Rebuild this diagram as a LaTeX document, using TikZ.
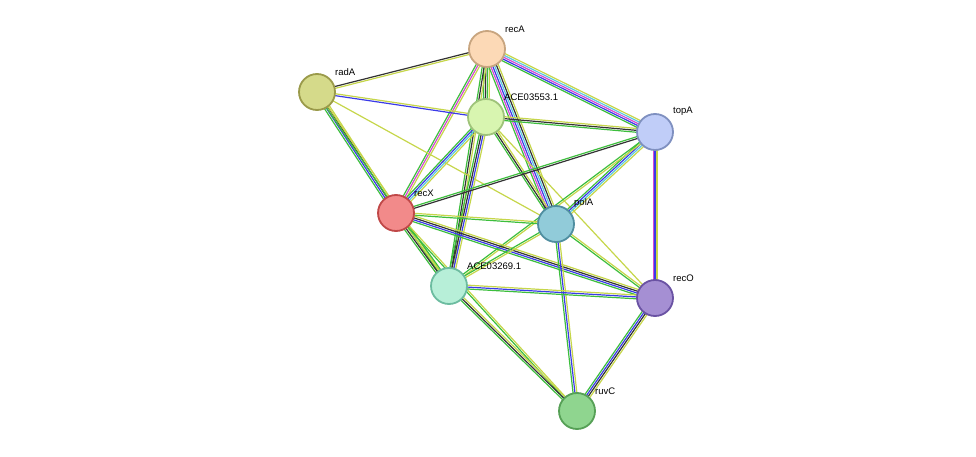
\documentclass[tikz,border=0pt]{standalone}
\usepackage{fontspec}
\setmainfont{Liberation Sans}
\usetikzlibrary{calc}
\definecolor{eg}{HTML}{3DBE3D}
\definecolor{eb}{HTML}{3A3AE8}
\definecolor{ek}{HTML}{333333}
\definecolor{ey}{HTML}{C6D64A}
\definecolor{em}{HTML}{D24AD2}
\definecolor{ec}{HTML}{5AC8E0}
\newcommand{\sedge}[3]{%
 \foreach \c [count=\i] in {#3} {\xdef\nn{\i}}%
 \foreach \c [count=\i] in {#3} {%
  \pgfmathsetmacro{\o}{(\i-(\nn+1)/2)*1.9}%
  \draw[draw=\c,line width=1.2pt] ($(#1)!\o pt!90:(#2)$) -- ($(#2)!\o pt!-90:(#1)$);}}
\tikzset{prot/.style={circle,minimum size=36pt,inner sep=0pt,line width=1.8pt},
 lab/.style={font=\fontsize{9.5}{11}\selectfont,inner sep=1pt,anchor=south west}}
\begin{document}
\begin{tikzpicture}[x=1pt,y=-1pt]
\useasboundingbox (0,0) rectangle (976,457);
\coordinate (recA) at (487,49);
\coordinate (radA) at (317,92);
\coordinate (A5) at (486,117);
\coordinate (topA) at (655,132);
\coordinate (recX) at (396,213);
\coordinate (polA) at (556,224);
\coordinate (A2) at (449,286);
\coordinate (recO) at (655,298);
\coordinate (ruvC) at (577,411);
\sedge{recA}{radA}{ek,ey}
\sedge{recA}{A5}{eg,ek,eg,ey}
\sedge{recA}{topA}{eg,eb,em,ec,ey}
\sedge{recA}{recX}{eg,em,ey}
\sedge{recA}{polA}{eg,em,eb,ec,ek,ey}
\sedge{recA}{A2}{eg,ek,ey}
\sedge{radA}{A5}{eb,ey}
\sedge{radA}{polA}{ey}
\sedge{radA}{recX}{eg,eb,ek,ey}
\sedge{radA}{A2}{eg,ey}
\sedge{A5}{topA}{eg,ek,ey}
\sedge{A5}{recX}{eg,eb,ec,ey}
\sedge{A5}{polA}{eg,ek,ey}
\sedge{A5}{A2}{eg,ek,eb,ey}
\sedge{A5}{recO}{ey}
\sedge{topA}{recX}{eg,ek}
\sedge{topA}{polA}{eg,eb,ec,ey}
\sedge{topA}{A2}{eg,ey}
\sedge{topA}{recO}{em,eb,ey}
\sedge{recX}{polA}{eg,ey}
\sedge{recX}{A2}{eg,ek,ey,eg}
\sedge{recX}{recO}{eg,eb,ek,ey}
\sedge{recX}{ruvC}{eg,ey}
\sedge{polA}{A2}{eg,ey}
\sedge{polA}{recO}{eg,ey}
\sedge{polA}{ruvC}{eg,eb,ey}
\sedge{A2}{recO}{eg,eb,ey}
\sedge{A2}{ruvC}{eg,ek,ey}
\sedge{recO}{ruvC}{eg,eb,ek,ey}
\node[prot,fill={rgb,255:red,252;green,217;blue,182},draw={rgb,255:red,200;green,165;blue,127}] (nrecA) at (recA) {};
\node[prot,fill={rgb,255:red,213;green,218;blue,138},draw={rgb,255:red,154;green,154;blue,74}] (nradA) at (radA) {};
\node[prot,fill={rgb,255:red,216;green,245;blue,176},draw={rgb,255:red,159;green,195;blue,122}] (nA5) at (A5) {};
\node[prot,fill={rgb,255:red,192;green,205;blue,248},draw={rgb,255:red,127;green,144;blue,192}] (ntopA) at (topA) {};
\node[prot,fill={rgb,255:red,242;green,138;blue,138},draw={rgb,255:red,192;green,72;blue,72}] (nrecX) at (recX) {};
\node[prot,fill={rgb,255:red,145;green,203;blue,217},draw={rgb,255:red,79;green,142;blue,160}] (npolA) at (polA) {};
\node[prot,fill={rgb,255:red,183;green,239;blue,216},draw={rgb,255:red,108;green,188;blue,160}] (nA2) at (A2) {};
\node[prot,fill={rgb,255:red,165;green,143;blue,211},draw={rgb,255:red,106;green,82;blue,163}] (nrecO) at (recO) {};
\node[prot,fill={rgb,255:red,143;green,213;blue,143},draw={rgb,255:red,86;green,160;blue,86}] (nruvC) at (ruvC) {};
\node[lab] (lrecA) at (504,34) {recA};
\node[lab] (lradA) at (334,77) {radA};
\node[lab] (lA5) at (503,102) {ACE03553.1};
\node[lab] (ltopA) at (672,117) {topA};
\node[lab] (lrecX) at (413,198) {recX};
\node[lab] (lpolA) at (573,209) {polA};
\node[lab] (lA2) at (466,271) {ACE03269.1};
\node[lab] (lrecO) at (672,283) {recO};
\node[lab] (lruvC) at (594,396) {ruvC};
\end{tikzpicture}
\end{document}
